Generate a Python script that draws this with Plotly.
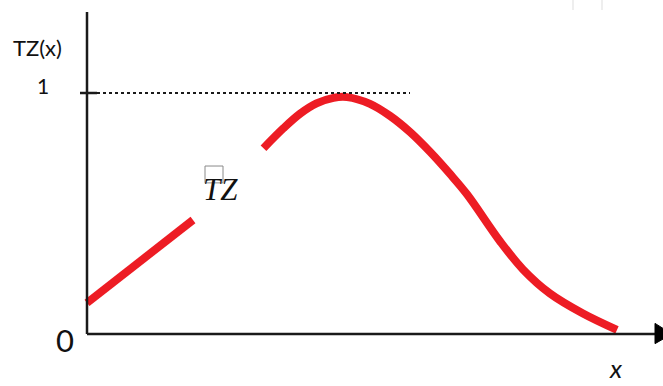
import plotly.graph_objects as go

# ---- data (x in arbitrary units, TZ(x) normalised to 1) ----
seg1_x = [0.0, 2.12]
seg1_y = [0.129, 0.473]

seg2_x = [3.53, 3.93, 4.26, 4.59, 4.93, 5.20, 5.66, 6.06, 6.46, 6.86, 7.26, 7.60,
          8.26, 8.72, 9.26, 9.92, 10.60]
seg2_y = [0.771, 0.854, 0.914, 0.957, 0.980, 0.983, 0.955, 0.905, 0.838, 0.756, 0.664, 0.580,
          0.385, 0.268, 0.168, 0.085, 0.017]

ref_x = [0.2, 6.46]
ref_y = [1.0, 1.0]

y_label = "TZ(x)"
x_label = "x"
curve_label = "TZ"
y_ticks = ["0", "1"]

RED = "#ED1C24"
AX = "#1a1a1a"

fig = go.Figure()
fig.add_trace(go.Scatter(x=seg1_x, y=seg1_y, mode="lines",
                         line=dict(color=RED, width=8), hoverinfo="skip"))
fig.add_trace(go.Scatter(x=seg2_x, y=seg2_y, mode="lines",
                         line=dict(color=RED, width=8, shape="spline", smoothing=1.0),
                         hoverinfo="skip"))
fig.add_trace(go.Scatter(x=ref_x, y=ref_y, mode="lines",
                         line=dict(color=AX, width=2, dash="dot"), hoverinfo="skip"))

shapes = [
    # y axis
    dict(type="line", x0=0, y0=0, x1=0, y1=1.336, line=dict(color=AX, width=2.5)),
    # x axis
    dict(type="line", x0=0, y0=0, x1=11.4, y1=0, line=dict(color=AX, width=2.5)),
    # arrow head
    dict(type="path", path="M 11.36 0.044 L 11.70 0 L 11.36 -0.040 Z",
         fillcolor="#000000", line=dict(color="#000000", width=1), layer="above"),
    # tick at 1
    dict(type="line", x0=-0.14, y0=1, x1=0.2, y1=1, line=dict(color=AX, width=2.5)),
    # missing-glyph box above the T
    dict(type="rect", x0=2.36, y0=0.627, x1=2.72, y1=0.697,
         line=dict(color="#8a8a8a", width=1)),
    # faint marks top right
    dict(type="line", x0=9.72, y0=1.344, x1=9.72, y1=1.386, line=dict(color="#eeeeee", width=2)),
    dict(type="line", x0=10.30, y0=1.344, x1=10.30, y1=1.386, line=dict(color="#eeeeee", width=2)),
]

sans = "Lato, 'Liberation Sans', sans-serif"
annotations = [
    dict(x=-0.99, y=1.19, text=y_label, font=dict(family=sans, size=22, color="#111"),
         yanchor="middle"),
    dict(x=-0.88, y=1.03, text=y_ticks[1], font=dict(family=sans, size=21, color="#111"),
         yanchor="middle"),
    dict(x=-0.45, y=-0.025, text=y_ticks[0], font=dict(family=sans, size=31, color="#111"),
         yanchor="middle"),
    dict(x=10.58, y=-0.2145, text="<i>" + x_label + "</i>",
         font=dict(family=sans, size=26, color="#111"), yanchor="bottom"),
    dict(x=2.67, y=0.60, text="<i>" + curve_label + "</i>",
         font=dict(family="'Liberation Serif', 'DejaVu Serif', serif", size=31, color="#111"),
         yanchor="middle"),
]
for a in annotations:
    a.update(xref="x", yref="y", showarrow=False, xanchor="center")

fig.update_layout(
    width=663, height=386,
    margin=dict(l=0, r=0, t=0, b=0),
    paper_bgcolor="white", plot_bgcolor="white",
    showlegend=False,
    xaxis=dict(range=[-1.74, 11.52], visible=False, fixedrange=True),
    yaxis=dict(range=[-0.2158, 1.3859], visible=False, fixedrange=True),
    shapes=shapes, annotations=annotations,
)

fig.write_html(
    "out.html",
    config={"displayModeBar": False},
    post_script="document.body.style.margin='0';document.body.style.overflow='hidden';",
)
